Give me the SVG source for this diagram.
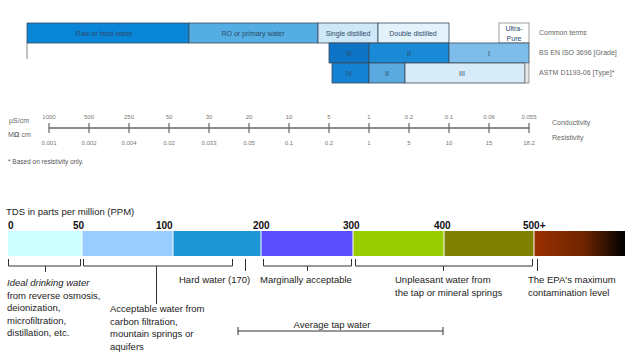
<svg xmlns="http://www.w3.org/2000/svg" width="630" height="364" viewBox="0 0 630 364">
<defs>
<linearGradient id="brown" x1="0" y1="0" x2="1" y2="0">
<stop offset="0" stop-color="#9a3000"/>
<stop offset="0.55" stop-color="#6e2400"/>
<stop offset="1" stop-color="#000000"/>
</linearGradient>
<style>
.t{font-family:"Liberation Sans",Arial,sans-serif;}
.tiny{font-size:6.5px;fill:#555;}
.box{stroke:#3a4a5a;stroke-width:0.8;}
.lab{font-size:7px;fill:#2a4a6a;text-anchor:middle;}
.side{font-size:7px;fill:#666;}
.sc{font-size:6px;fill:#777;text-anchor:middle;}
.tick{stroke:#666;stroke-width:1.2;}
.bl{font-size:9.5px;fill:#222;}
.num{font-size:10px;font-weight:bold;fill:#111;}
.br{fill:none;stroke:#333;stroke-width:1;}
</style>
</defs>
<rect width="630" height="364" fill="#ffffff"/>

<g id="common-terms">
<rect x="27" y="23" width="162" height="20" fill="#0a86d8" class="box"/>
<text x="104" y="35.5" class="t lab" fill="#1a3a5a">Raw or feed water</text>
<rect x="189" y="23" width="129" height="20" fill="#55aee3" class="box"/>
<text x="253" y="35.5" class="t lab">RO or primary water</text>
<rect x="318" y="23" width="60" height="20" fill="#cfe8f7" class="box"/>
<text x="348" y="35.5" class="t lab">Single distilled</text>
<rect x="378" y="23" width="71" height="20" fill="#e4f2fb" class="box"/>
<text x="413" y="35.5" class="t lab">Double distilled</text>
<rect x="499" y="23" width="30" height="20" fill="#ffffff" stroke="#888" stroke-width="0.8"/>
<text x="514" y="31" class="t lab" fill="#777">Ultra-</text>
<text x="514" y="40.5" class="t lab" fill="#777">Pure</text>
<line x1="27" y1="43" x2="27" y2="59" stroke="#666" stroke-width="0.8"/>
<text x="539" y="35" class="t side">Common terms</text>
</g>

<g id="bs-en">
<rect x="329" y="43" width="40" height="20" fill="#0d74c6" class="box"/>
<text x="349" y="55.5" class="t lab">III</text>
<rect x="369" y="43" width="80" height="20" fill="#1a8ad6" class="box"/>
<text x="409" y="55.5" class="t lab" fill="#9cc8ee">II</text>
<rect x="449" y="43" width="80" height="20" fill="#7ebde9" class="box"/>
<text x="489" y="55.5" class="t lab" fill="#d6eaf8">I</text>
<text x="539" y="55" class="t side">BS EN ISO 3696 [Grade]</text>
</g>

<g id="astm">
<rect x="332" y="63" width="37" height="20" fill="#1482d2" class="box"/>
<text x="349" y="75.5" class="t lab">IV</text>
<rect x="369" y="63" width="36" height="20" fill="#5aaae0" class="box"/>
<text x="387" y="75.5" class="t lab" fill="#a9d2f0">II</text>
<rect x="405" y="63" width="120" height="20" fill="#d7ebf8" class="box"/>
<text x="462" y="75.5" class="t lab" fill="#7a9ab8">III</text>
<rect x="525" y="63" width="4" height="20" fill="#e8e8e8" stroke="#888" stroke-width="0.8"/>
<text x="539" y="75" class="t side">ASTM D1193-06 [Type]*</text>
</g>

<g id="scale">
<line x1="49" y1="128" x2="529" y2="128" stroke="#666" stroke-width="1.3"/>
<g class="tick">
<line x1="49" y1="123" x2="49" y2="133"/><line x1="89" y1="123" x2="89" y2="133"/>
<line x1="129" y1="123" x2="129" y2="133"/><line x1="169" y1="123" x2="169" y2="133"/>
<line x1="209" y1="123" x2="209" y2="133"/><line x1="249" y1="123" x2="249" y2="133"/>
<line x1="289" y1="123" x2="289" y2="133"/><line x1="329" y1="123" x2="329" y2="133"/>
<line x1="369" y1="123" x2="369" y2="133"/><line x1="409" y1="123" x2="409" y2="133"/>
<line x1="449" y1="123" x2="449" y2="133"/><line x1="489" y1="123" x2="489" y2="133"/>
<line x1="529" y1="123" x2="529" y2="133"/>
</g>
<g class="t sc">
<text x="49" y="119">1000</text><text x="89" y="119">500</text><text x="129" y="119">250</text>
<text x="169" y="119">50</text><text x="209" y="119">30</text><text x="249" y="119">20</text>
<text x="289" y="119">10</text><text x="329" y="119">5</text><text x="369" y="119">1</text>
<text x="409" y="119">0.2</text><text x="449" y="119">0.1</text><text x="489" y="119">0.06</text>
<text x="529" y="119">0.055</text>
<text x="49" y="145">0.001</text><text x="89" y="145">0.002</text><text x="129" y="145">0.004</text>
<text x="169" y="145">0.02</text><text x="209" y="145">0.033</text><text x="249" y="145">0.05</text>
<text x="289" y="145">0.1</text><text x="329" y="145">0.2</text><text x="369" y="145">1</text>
<text x="409" y="145">5</text><text x="449" y="145">10</text><text x="489" y="145">15</text>
<text x="529" y="145">18.2</text>
</g>
<text x="9" y="123" class="t side">µS/cm</text>
<text x="8" y="137" class="t side">M<tspan font-weight="bold">Ω</tspan> cm</text>
<text x="552" y="125" class="t side">Conductivity</text>
<text x="552" y="140" class="t side">Resistivity</text>
<text x="8" y="164" class="t tiny">* Based on resistivity only.</text>
</g>

<g id="tds-bar">
<text x="6" y="215" class="t bl">TDS in parts per million (PPM)</text>
<g class="t num">
<text x="8" y="229">0</text><text x="73" y="229">50</text><text x="156" y="229">100</text>
<text x="253" y="229">200</text><text x="343" y="229">300</text><text x="434" y="229">400</text>
<text x="523" y="229">500+</text>
</g>
<rect x="8" y="231" width="73.5" height="25" fill="#ccffff"/>
<rect x="82.5" y="231" width="90" height="25" fill="#99ccff"/>
<rect x="173.5" y="231" width="87" height="25" fill="#1e96d6"/>
<rect x="261.5" y="231" width="91" height="25" fill="#5b4eff"/>
<rect x="353.5" y="231" width="90" height="25" fill="#99cc00"/>
<rect x="444.5" y="231" width="89" height="25" fill="#808000"/>
<rect x="534.5" y="231" width="90.5" height="25" fill="url(#brown)"/>
</g>

<g id="brackets">
<path class="br" d="M8.5,259 V266 H80.5 V259 M45.5,266 V272"/>
<path class="br" d="M83.5,259 V266 H232.5 V259 M156.5,266 V304"/>
<path class="br" d="M245.5,259 V271"/>
<path class="br" d="M263.5,259 V266 H351.5 V259 M307.5,266 V271"/>
<path class="br" d="M355.5,259 V266 H532.5 V259 M443.5,266 V271"/>
<path class="br" d="M537.5,259 V271"/>
<path class="br" d="M238,327 V335 M238,331 H443 M443,327 V335"/>
</g>

<g id="labels" class="t bl">
<text x="7" y="286" font-style="italic">Ideal drinking water</text>
<text x="7" y="298.5">from reverse osmosis,</text>
<text x="7" y="311">deionization,</text>
<text x="7" y="323.5">microfiltration,</text>
<text x="7" y="336">distillation, etc.</text>
<text x="110" y="312">Acceptable water from</text>
<text x="110" y="324.5">carbon filtration,</text>
<text x="110" y="337">mountain springs or</text>
<text x="110" y="349.5">aquifers</text>
<text x="179" y="283">Hard water (170)</text>
<text x="260" y="283">Marginally acceptable</text>
<text x="395" y="283">Unpleasant water from</text>
<text x="395" y="295.5">the tap or mineral springs</text>
<text x="528" y="283">The EPA's maximum</text>
<text x="528" y="295.5">contamination level</text>
<text x="332" y="328" text-anchor="middle">Average tap water</text>
</g>
</svg>
